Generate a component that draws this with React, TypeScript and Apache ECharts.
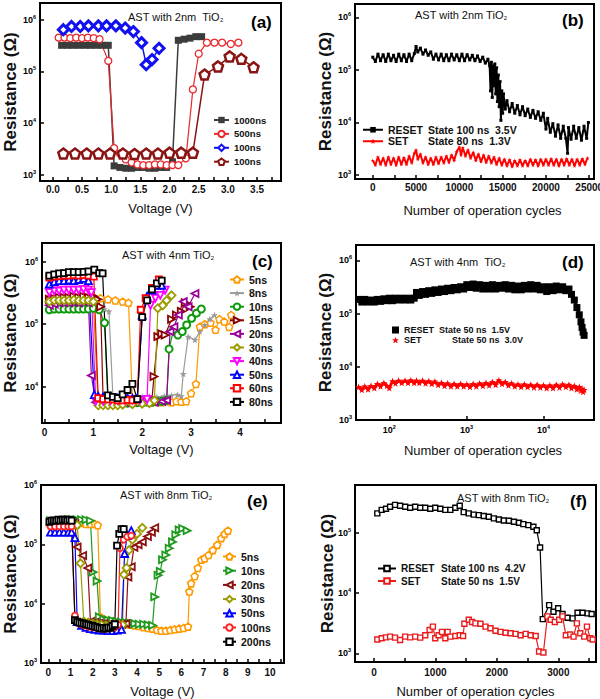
import React, { useEffect, useRef } from 'react';
import * as echarts from 'echarts';

type P = [number, number];

// ---------------- tick labels ----------------
const aXLabels = [0, 0.5, 1, 1.5, 2, 2.5, 3, 3.5];
const aXTicks = [0, 0.25, 0.5, 0.75, 1, 1.25, 1.5, 1.75, 2, 2.25, 2.5, 2.75, 3, 3.25, 3.5, 3.75];
const bXLabels = [0, 5000, 10000, 15000, 20000, 25000];
const bXTicks = [0, 2500, 5000, 7500, 10000, 12500, 15000, 17500, 20000, 22500, 25000];
const cXLabels = [0, 1, 2, 3, 4];
const cXTicks = [0, 0.5, 1, 1.5, 2, 2.5, 3, 3.5, 4, 4.5];
const eXLabels = [0, 1, 2, 3, 4, 5, 6, 7, 8, 9, 10];
const eXTicks = [0, 0.5, 1, 1.5, 2, 2.5, 3, 3.5, 4, 4.5, 5, 5.5, 6, 6.5, 7, 7.5, 8, 8.5, 9, 9.5, 10, 10.5];
const fXLabels = [0, 1000, 2000, 3000];
const fXTicks = [0, 500, 1000, 1500, 2000, 2500, 3000, 3500];

// ---------------- texts ----------------
const panelNotes = ['AST with 2nm  TiO', 'AST with 2nm TiO', 'AST with 4nm TiO', 'AST with 4nm  TiO', 'AST with 8nm TiO', 'AST with 8nm TiO'];
const panelLetters = ['(a)', '(b)', '(c)', '(d)', '(e)', '(f)'];
const aNames = ['1000ns', '500ns', '100ns', '100ns'];
const cNames = ['5ns', '8ns', '10ns', '15ns', '20ns', '30ns', '40ns', '50ns', '60ns', '80ns'];
const eNames = ['5ns', '10ns', '20ns', '30ns', '50ns', '100ns', '200ns'];
const bLegend = [['RESET', 'State 100 ns  3.5V'], ['SET', 'State 80 ns  1.3V']];
const dLegend = [['RESET', 'State 50 ns  1.5V'], ['SET', 'State 50 ns  3.0V']];
const fLegend = [['RESET', 'State 100 ns  4.2V'], ['SET', 'State 50 ns  1.5V']];

// ---------------- panel (a) ----------------
const a1000: P[] = [[0.15,3.2e5],[0.25,3.2e5],[0.35,3.2e5],[0.45,3.2e5],[0.55,3.2e5],[0.65,3.2e5],[0.75,3.2e5],[0.85,3.2e5],[0.95,3.2e5],[1.05,1.5e3],[1.15,1.4e3],[1.25,1.35e3],[1.35,1.35e3],[1.45,1.4e3],[1.55,1.4e3],[1.65,1.35e3],[1.75,1.35e3],[1.85,1.4e3],[1.95,1.4e3],[2.05,1.8e3],[2.15,4.0e5],[2.25,4.2e5],[2.35,4.4e5],[2.45,4.7e5],[2.55,4.7e5]];
const a500: P[] = [[0.1,4.5e5],[0.2,4.5e5],[0.3,4.4e5],[0.4,4.5e5],[0.5,4.4e5],[0.6,4.5e5],[0.7,4.4e5],[0.8,4.2e5],[0.95,1.6e5],[1.05,3.3e3],[1.15,2.6e3],[1.25,2.0e3],[1.35,1.75e3],[1.45,1.6e3],[1.55,1.55e3],[1.65,1.55e3],[1.75,1.6e3],[1.85,1.6e3],[1.95,1.55e3],[2.05,1.55e3],[2.15,1.55e3],[2.28,2.1e3],[2.4,4.5e4],[2.5,2.2e5],[2.64,3.6e5],[2.77,3.6e5],[2.9,3.6e5],[3.05,3.4e5],[3.18,3.6e5]];
const a100: P[] = [[0.18,6.4e5],[0.32,7.4e5],[0.47,7.4e5],[0.61,7.6e5],[0.78,7.6e5],[0.92,7.6e5],[1.08,7.6e5],[1.24,6.9e5],[1.38,5.9e5],[1.52,3.6e5],[1.6,1.35e5],[1.7,1.7e5],[1.82,2.8e5]];
const a100b: P[] = [[0.18,2.6e3],[0.38,2.6e3],[0.58,2.6e3],[0.78,2.6e3],[0.98,2.6e3],[1.2,2.6e3],[1.4,2.55e3],[1.6,2.6e3],[1.8,2.6e3],[2.0,2.7e3],[2.2,2.7e3],[2.4,2.7e3],[2.6,8.7e4],[2.83,1.25e5],[3.03,1.95e5],[3.23,1.75e5],[3.44,1.2e5]];

// ---------------- panel (b) ----------------
const bReset: P[] = [[0,1.75e5],[300,1.45e5],[600,2.0e5],[900,1.5e5],[1200,1.95e5],[1500,1.45e5],[1800,2.0e5],[2100,1.5e5],[2400,1.9e5],[2700,1.45e5],[3000,2.0e5],[3300,1.5e5],[3600,1.95e5],[3900,1.45e5],[4200,2.0e5],[4500,1.5e5],[4800,2.05e5],[5000,2.8e5],[5200,2.2e5],[5500,2.6e5],[5800,2.0e5],[6100,2.4e5],[6400,1.9e5],[6700,2.2e5],[7000,1.6e5],[7300,2.0e5],[7600,1.55e5],[7900,2.0e5],[8200,1.5e5],[8500,1.95e5],[8800,1.5e5],[9100,2.0e5],[9400,1.55e5],[9700,1.95e5],[10000,1.5e5],[10300,2.0e5],[10600,1.5e5],[10900,1.95e5],[11200,1.55e5],[11500,1.9e5],[11800,1.5e5],[12100,1.85e5],[12400,1.45e5],[12700,1.75e5],[13000,1.35e5],[13300,1.6e5],[13500,1.2e5],[13600,4.0e4],[13700,1.4e5],[13800,3.0e4],[13900,1.2e5],[14000,5.0e4],[14100,1.3e5],[14200,3.5e4],[14300,1.1e5],[14400,2.5e4],[14500,8.0e4],[14600,2.0e4],[14700,6.0e4],[14800,1.1e4],[14900,4.0e4],[15000,1.5e4],[15100,3.5e4],[15300,1.8e4],[15500,2.6e4],[15800,1.6e4],[16100,2.3e4],[16400,1.5e4],[16700,2.1e4],[17000,1.4e4],[17300,2.0e4],[17600,1.35e4],[17900,1.8e4],[18200,1.25e4],[18500,1.7e4],[18800,1.2e4],[19100,1.6e4],[19400,1.1e4],[19700,1.5e4],[20000,7.5e3],[20200,1.2e4],[20500,6.5e3],[20800,9.5e3],[21100,5.5e3],[21400,9.0e3],[21700,5.0e3],[22000,8.5e3],[22300,5.0e3],[22500,2.6e3],[22600,8.0e3],[22900,4.8e3],[23200,8.5e3],[23500,5.0e3],[23800,8.0e3],[24100,4.6e3],[24400,8.5e3],[24700,5.0e3],[24900,1.0e4]];
const bSet: P[] = [[0,1.9e3],[300,1.55e3],[600,2.2e3],[900,1.6e3],[1200,2.1e3],[1500,1.55e3],[1800,2.2e3],[2100,1.6e3],[2400,2.1e3],[2700,1.55e3],[3000,2.2e3],[3300,1.6e3],[3600,2.15e3],[3900,1.6e3],[4200,2.3e3],[4500,1.7e3],[4800,2.6e3],[5000,3.0e3],[5200,2.0e3],[5500,2.5e3],[5800,1.7e3],[6100,2.2e3],[6400,1.6e3],[6700,2.1e3],[7000,1.6e3],[7300,2.2e3],[7600,1.65e3],[7900,2.2e3],[8200,1.7e3],[8500,2.3e3],[8800,1.75e3],[9100,2.4e3],[9400,1.9e3],[9700,2.8e3],[10000,3.4e3],[10200,2.4e3],[10400,3.3e3],[10700,2.3e3],[11000,3.0e3],[11300,2.1e3],[11600,2.7e3],[11900,1.9e3],[12200,2.5e3],[12500,1.8e3],[12800,2.4e3],[13100,1.75e3],[13400,2.3e3],[13700,1.7e3],[14000,2.2e3],[14300,1.6e3],[14600,2.1e3],[14900,1.55e3],[15200,2.0e3],[15500,1.5e3],[15800,1.95e3],[16100,1.45e3],[16400,1.9e3],[16700,1.5e3],[17000,1.95e3],[17300,1.5e3],[17600,1.9e3],[17900,1.5e3],[18200,2.0e3],[18500,1.55e3],[18800,1.95e3],[19100,1.5e3],[19400,2.0e3],[19700,1.55e3],[20000,2.0e3],[20300,1.55e3],[20600,2.05e3],[20900,1.55e3],[21200,2.0e3],[21500,1.5e3],[21800,2.0e3],[22100,1.55e3],[22400,2.05e3],[22700,1.55e3],[23000,2.0e3],[23300,1.5e3],[23600,2.0e3],[23900,1.55e3],[24200,2.05e3],[24500,1.6e3],[24800,2.1e3]];

// ---------------- panel (c) ----------------
const c5: P[] = [[0.1,2.6e5],[0.25,2.6e5],[0.4,2.6e5],[0.55,2.7e5],[0.7,2.7e5],[0.85,2.7e5],[1.0,2.75e5],[1.15,2.6e5],[1.3,2.5e5],[1.45,2.4e5],[1.6,2.3e5],[1.72,2.2e5],[1.8,6.0e3],[1.9,5.8e3],[2.0,5.6e3],[2.1,5.8e3],[2.2,5.6e3],[2.3,5.7e3],[2.4,5.6e3],[2.5,5.8e3],[2.6,5.6e3],[2.7,5.8e3],[2.8,5.7e3],[2.9,5.8e3],[3.0,7.8e3],[3.1,1.1e4],[3.18,9.1e4],[3.28,1.0e5],[3.4,1.05e5],[3.5,8.1e4],[3.58,1.2e5],[3.68,1.1e5],[3.78,9.0e4],[3.82,1.4e5]];
const c8: P[] = [[0.1,1.8e5],[0.25,1.8e5],[0.4,1.85e5],[0.55,1.85e5],[0.7,1.85e5],[0.85,1.8e5],[1.0,1.8e5],[1.12,1.8e5],[1.22,1.75e5],[1.32,1.6e5],[1.4,7.0e3],[1.55,6.8e3],[1.7,7.0e3],[1.85,6.8e3],[2.0,6.9e3],[2.15,7.0e3],[2.3,6.8e3],[2.45,7.0e3],[2.6,7.2e3],[2.72,7.4e3],[2.8,7.0e3],[2.84,1.6e4],[2.94,6.3e4],[3.08,5.6e4],[3.18,7.6e4],[3.28,9.7e4],[3.38,1.2e5],[3.48,1.4e5]];
const c10: P[] = [[0.1,1.7e5],[0.2,1.75e5],[0.3,1.75e5],[0.4,1.75e5],[0.5,1.75e5],[0.6,1.75e5],[0.7,1.75e5],[0.8,1.75e5],[0.9,1.75e5],[1.0,1.8e5],[1.12,1.7e5],[1.23,1.05e5],[1.3,5.2e3],[1.4,5.2e3],[1.5,5.3e3],[1.6,5.3e3],[1.7,5.4e3],[1.8,5.4e3],[1.9,5.5e3],[2.0,5.5e3],[2.1,5.6e3],[2.2,5.6e3],[2.3,5.7e3],[2.4,5.8e3],[2.5,6.0e3],[2.55,4.0e4],[2.64,8.0e4],[2.73,6.7e4],[2.82,7.6e4],[2.91,9.7e4],[3.01,1.24e5],[3.11,1.5e5],[3.21,1.75e5]];
const c15: P[] = [[0.1,2.5e5],[0.2,2.6e5],[0.3,2.7e5],[0.4,2.7e5],[0.5,2.7e5],[0.6,2.8e5],[0.7,2.7e5],[0.8,2.8e5],[0.9,2.7e5],[1.0,2.8e5],[1.09,2.5e5],[1.15,1.9e5],[1.2,6.2e3],[1.35,6.0e3],[1.5,6.0e3],[1.65,6.1e3],[1.8,6.0e3],[1.95,6.1e3],[2.1,6.0e3],[2.2,6.2e3],[2.24,1.45e4],[2.32,6.3e4],[2.4,7.0e4],[2.47,6.7e4],[2.6,1.2e5],[2.7,1.4e5],[2.8,1.6e5],[2.88,2.2e5],[2.98,1.9e5]];
const c20: P[] = [[0.1,2.0e5],[0.2,2.1e5],[0.3,2.2e5],[0.4,2.2e5],[0.5,2.2e5],[0.6,2.25e5],[0.7,2.2e5],[0.8,2.3e5],[0.9,2.2e5],[0.96,1.5e4],[1.05,5.6e3],[1.2,5.5e3],[1.35,5.6e3],[1.5,5.5e3],[1.65,5.6e3],[1.8,5.7e3],[1.95,5.6e3],[2.1,5.7e3],[2.25,5.6e3],[2.4,5.8e3],[2.5,6.0e3],[2.57,7.6e4],[2.65,9.1e4],[2.74,1.4e5],[2.84,2.3e5],[2.94,1.9e5],[3.08,3.1e5]];
const c30: P[] = [[0.1,2.3e5],[0.2,2.4e5],[0.3,2.4e5],[0.4,2.4e5],[0.5,2.4e5],[0.6,2.45e5],[0.7,2.4e5],[0.8,2.4e5],[0.9,2.4e5],[1.0,2.3e5],[1.1,5.0e3],[1.2,5.0e3],[1.3,5.0e3],[1.4,5.0e3],[1.5,5.0e3],[1.6,5.1e3],[1.8,5.2e3],[2.0,5.3e3],[2.15,5.4e3],[2.25,6.0e3],[2.32,1.8e5],[2.42,2.0e5],[2.5,2.4e5],[2.6,2.9e5]];
const c40: P[] = [[0.1,3.2e5],[0.2,3.4e5],[0.3,3.4e5],[0.4,3.5e5],[0.5,3.5e5],[0.6,3.5e5],[0.7,3.5e5],[0.8,3.6e5],[0.9,3.5e5],[0.96,3.2e5],[1.05,5.8e3],[1.2,5.8e3],[1.35,5.9e3],[1.5,6.0e3],[1.65,6.0e3],[1.8,6.1e3],[1.95,6.0e3],[2.1,6.2e3],[2.17,2.0e5],[2.27,2.6e5],[2.37,2.9e5],[2.47,3.5e5]];
const c50: P[] = [[0.1,4.4e5],[0.2,4.8e5],[0.3,5.0e5],[0.4,5.0e5],[0.5,5.1e5],[0.6,5.0e5],[0.7,5.2e5],[0.8,5.4e5],[0.9,5.0e5],[1.02,7.4e3],[1.1,7.0e3],[1.2,6.8e3],[1.3,6.6e3],[1.4,6.5e3],[1.5,6.5e3],[1.6,6.4e3],[1.7,6.5e3],[1.8,6.4e3],[1.9,6.5e3],[2.0,1.4e5],[2.1,2.8e5],[2.2,3.5e5],[2.3,4.2e5],[2.4,4.2e5]];
const c60: P[] = [[0.1,5.6e5],[0.2,5.8e5],[0.3,5.9e5],[0.4,6.0e5],[0.5,6.0e5],[0.6,6.1e5],[0.7,6.0e5],[0.8,6.1e5],[0.9,6.0e5],[1.01,5.8e5],[1.1,6.5e3],[1.2,6.3e3],[1.3,6.2e3],[1.4,6.2e3],[1.5,6.0e3],[1.6,6.0e3],[1.7,6.1e3],[1.8,6.0e3],[1.9,6.2e3],[1.97,1.7e5],[2.07,2.6e5],[2.2,3.8e5],[2.34,5.2e5]];
const c80: P[] = [[0.1,6.0e5],[0.2,6.3e5],[0.3,6.5e5],[0.4,6.6e5],[0.5,6.8e5],[0.6,6.8e5],[0.7,6.8e5],[0.8,6.9e5],[0.9,7.0e5],[1.02,7.5e5],[1.12,6.6e5],[1.19,6.5e5],[1.3,7.2e3],[1.4,6.8e3],[1.5,6.5e3],[1.6,7.5e3],[1.7,8.8e3],[1.8,1.1e4],[1.9,6.3e3],[2.0,1.3e5],[2.1,2.4e5],[2.2,3.6e5],[2.3,4.5e5],[2.4,5.0e5]];

// ---------------- panel (d) ----------------
const dReset: P[] = [[40,1.85e5],[44,1.65e5],[48,1.85e5],[53,1.65e5],[58,1.8e5],[64,1.65e5],[70,1.85e5],[77,1.7e5],[85,1.9e5],[93,1.75e5],[100,1.95e5],[110,1.75e5],[120,1.95e5],[132,1.8e5],[145,1.95e5],[160,1.8e5],[175,1.95e5],[190,1.8e5],[210,1.95e5],[225,2.5e5],[245,2.2e5],[270,2.6e5],[295,2.3e5],[325,2.7e5],[355,2.4e5],[390,2.8e5],[430,2.5e5],[475,2.9e5],[520,2.6e5],[570,3.0e5],[630,2.7e5],[690,3.1e5],[760,2.8e5],[840,3.2e5],[920,2.9e5],[1010,3.5e5],[1110,3.1e5],[1220,3.6e5],[1340,3.0e5],[1480,3.5e5],[1630,2.9e5],[1790,3.4e5],[1970,2.9e5],[2170,3.5e5],[2390,2.9e5],[2630,3.4e5],[2890,3.0e5],[3180,3.5e5],[3500,2.9e5],[3850,3.4e5],[4230,2.8e5],[4650,3.3e5],[5120,2.8e5],[5630,3.4e5],[6190,2.9e5],[6810,3.5e5],[7490,2.9e5],[8240,3.4e5],[9060,2.8e5],[9970,3.2e5],[10960,2.6e5],[12060,3.2e5],[13260,2.7e5],[14590,3.3e5],[16050,2.8e5],[17650,3.2e5],[19400,2.7e5],[21300,2.9e5],[23000,2.3e5],[25000,1.8e5],[27000,1.3e5],[29000,9.5e4],[30500,7.0e4],[31500,5.5e4],[32500,4.5e4],[33500,3.9e4]];
const dSet: P[] = [[40,4.2e3],[44,3.7e3],[48,4.3e3],[53,3.8e3],[58,4.4e3],[64,4.0e3],[70,4.8e3],[77,4.3e3],[85,5.0e3],[93,4.4e3],[100,4.0e3],[110,5.4e3],[120,4.9e3],[132,5.5e3],[145,5.0e3],[160,5.5e3],[175,5.0e3],[190,5.6e3],[210,5.0e3],[225,5.5e3],[245,5.0e3],[270,5.5e3],[295,4.9e3],[325,5.4e3],[355,4.8e3],[390,5.3e3],[430,4.6e3],[475,5.0e3],[520,4.4e3],[570,4.9e3],[630,4.3e3],[690,4.8e3],[760,4.3e3],[840,4.8e3],[920,4.3e3],[1010,4.7e3],[1110,4.2e3],[1220,4.8e3],[1340,4.3e3],[1480,4.9e3],[1630,4.4e3],[1790,5.0e3],[1970,4.5e3],[2170,5.2e3],[2390,4.6e3],[2630,5.6e3],[2890,4.8e3],[3180,5.2e3],[3500,4.5e3],[3850,4.9e3],[4230,4.3e3],[4650,4.7e3],[5120,4.2e3],[5630,4.7e3],[6190,4.2e3],[6810,4.6e3],[7490,4.1e3],[8240,4.6e3],[9060,4.1e3],[9970,4.5e3],[10960,4.0e3],[12060,4.5e3],[13260,4.0e3],[14590,4.6e3],[16050,4.1e3],[17650,4.7e3],[19400,4.2e3],[21300,4.6e3],[23000,4.0e3],[25000,4.4e3],[27000,3.8e3],[29000,4.2e3],[30500,3.6e3],[31500,3.9e3],[32500,3.4e3],[33500,3.7e3]];

// ---------------- panel (e) ----------------
const e5: P[] = [[0.1,2.2e5],[0.3,2.2e5],[0.5,2.2e5],[0.7,2.3e5],[0.9,2.3e5],[1.1,2.3e5],[1.3,2.3e5],[1.5,2.3e5],[1.7,2.2e5],[1.9,2.2e5],[2.1,2.2e5],[2.23,2.1e5],[2.35,6.0e3],[2.5,5.5e3],[2.7,5.2e3],[2.9,5.0e3],[3.1,4.8e3],[3.3,4.6e3],[3.5,4.5e3],[3.7,4.4e3],[3.9,4.3e3],[4.1,4.2e3],[4.3,4.0e3],[4.5,3.9e3],[4.7,3.8e3],[4.9,3.6e3],[5.1,3.5e3],[5.3,3.5e3],[5.5,3.6e3],[5.7,3.7e3],[5.9,3.8e3],[6.1,3.9e3],[6.3,4.1e3],[6.36,1.6e4],[6.44,2.2e4],[6.6,2.9e4],[6.74,4.0e4],[6.9,5.5e4],[7.05,5.8e4],[7.23,6.6e4],[7.42,8.0e4],[7.62,9.8e4],[7.8,1.27e5],[7.95,1.5e5],[8.1,1.7e5]];
const e10: P[] = [[0.1,2.5e5],[0.3,2.5e5],[0.5,2.5e5],[0.7,2.5e5],[0.9,2.6e5],[1.1,2.6e5],[1.3,2.6e5],[1.5,2.6e5],[1.7,2.6e5],[1.9,2.5e5],[2.02,3.4e4],[2.2,2.4e4],[2.3,6.0e3],[2.5,5.5e3],[2.7,5.3e3],[2.9,5.2e3],[3.1,5.0e3],[3.3,4.9e3],[3.5,4.8e3],[3.7,4.7e3],[3.9,4.6e3],[4.1,4.5e3],[4.3,4.5e3],[4.5,4.4e3],[4.7,4.3e3],[4.8,1.3e4],[4.95,3.0e4],[5.05,3.5e4],[5.15,5.5e4],[5.3,6.6e4],[5.45,8.6e4],[5.6,1.1e5],[5.75,1.45e5],[5.9,1.75e5],[6.06,1.85e5],[6.26,1.7e5]];
const e20: P[] = [[0.1,2.2e5],[0.3,2.2e5],[0.5,2.3e5],[0.7,2.3e5],[0.9,2.3e5],[1.1,2.3e5],[1.2,2.2e5],[1.3,9.0e4],[1.55,6.5e4],[1.78,4.0e4],[1.9,5.0e3],[2.1,4.8e3],[2.3,4.7e3],[2.5,4.6e3],[2.7,4.5e3],[2.9,4.5e3],[3.1,4.4e3],[3.3,4.5e3],[3.5,4.6e3],[3.59,2.8e4],[3.74,4.2e4],[3.86,8.9e4],[4.05,9.8e4],[4.24,1.1e5],[4.47,1.35e5],[4.65,1.6e5],[4.8,1.9e5]];
const e30: P[] = [[0.1,2.1e5],[0.3,2.1e5],[0.5,2.1e5],[0.7,2.2e5],[0.9,2.2e5],[1.1,2.2e5],[1.3,2.1e5],[1.45,4.8e4],[1.6,5.0e3],[1.8,4.8e3],[2.0,4.6e3],[2.2,4.5e3],[2.4,4.4e3],[2.6,4.3e3],[2.8,4.3e3],[3.0,4.2e3],[3.2,4.3e3],[3.35,4.4e3],[3.41,3.1e4],[3.53,4.0e4],[3.64,8.0e4],[3.79,1.2e5],[4.0,1.5e5],[4.24,1.9e5]];
const e50: P[] = [[0.1,1.6e5],[0.3,1.6e5],[0.5,1.6e5],[0.7,1.6e5],[0.9,1.6e5],[1.05,1.6e5],[1.2,1.3e5],[1.3,5.0e3],[1.5,4.3e3],[1.7,4.0e3],[1.9,3.8e3],[2.1,3.7e3],[2.3,3.6e3],[2.5,3.6e3],[2.7,3.5e3],[2.9,3.5e3],[3.1,3.6e3],[3.3,3.7e3],[3.44,7.0e4],[3.56,1.4e5],[3.74,1.7e5]];
const e100: P[] = [[0.1,2.0e5],[0.3,2.0e5],[0.5,2.0e5],[0.7,2.0e5],[0.9,2.0e5],[1.05,2.0e5],[1.2,6.3e3],[1.4,4.6e3],[1.6,4.3e3],[1.8,4.1e3],[2.0,4.0e3],[2.2,3.9e3],[2.4,3.8e3],[2.6,3.8e3],[2.8,3.9e3],[3.0,4.0e3],[3.15,4.4e3],[3.23,8.6e4],[3.4,1.2e5],[3.56,1.35e5],[3.74,1.4e5]];
const e200: P[] = [[0.05,2.4e5],[0.15,2.5e5],[0.25,2.5e5],[0.35,2.5e5],[0.45,2.6e5],[0.55,2.5e5],[0.65,2.6e5],[0.75,2.6e5],[0.85,2.5e5],[0.95,2.6e5],[1.05,2.5e5],[1.2,5.3e3],[1.3,5.0e3],[1.4,4.8e3],[1.5,4.7e3],[1.6,4.6e3],[1.7,4.5e3],[1.8,4.4e3],[1.9,4.3e3],[2.0,4.2e3],[2.1,4.1e3],[2.2,4.0e3],[2.3,3.9e3],[2.4,3.8e3],[2.5,3.9e3],[2.6,3.8e3],[2.7,4.0e3],[2.8,3.9e3],[2.9,4.2e3],[3.0,4.5e3],[3.1,9.5e4],[3.2,1.5e5],[3.3,1.8e5],[3.4,1.8e5]];

// ---------------- panel (f) ----------------
const fReset: P[] = [[54,2.1e5],[125,2.4e5],[196,2.5e5],[262,2.7e5],[343,2.9e5],[425,2.8e5],[507,2.7e5],[589,2.6e5],[670,2.7e5],[752,2.6e5],[834,2.6e5],[916,2.5e5],[997,2.6e5],[1079,2.5e5],[1161,2.4e5],[1243,2.4e5],[1324,2.6e5],[1395,2.8e5],[1460,2.2e5],[1542,2.1e5],[1624,2.0e5],[1706,1.96e5],[1787,1.9e5],[1869,1.84e5],[1951,1.73e5],[2033,1.66e5],[2114,1.6e5],[2196,1.58e5],[2278,1.52e5],[2360,1.47e5],[2431,1.39e5],[2512,1.34e5],[2594,1.26e5],[2649,1.1e5],[2703,5.7e4],[2747,3.7e3],[2850,6.3e3],[2921,4.9e3],[2997,5.6e3],[3068,4.5e3],[3150,3.9e3],[3232,3.8e3],[3313,4.7e3],[3395,4.7e3],[3477,4.6e3],[3542,4.5e3]];
const fSet: P[] = [[54,1.7e3],[125,1.78e3],[196,1.84e3],[262,1.89e3],[343,1.82e3],[425,1.66e3],[507,1.89e3],[589,1.84e3],[670,1.89e3],[752,1.82e3],[834,2.0e3],[905,2.44e3],[959,2.77e3],[997,1.78e3],[1052,2.0e3],[1106,2.27e3],[1161,1.78e3],[1199,2.27e3],[1243,1.89e3],[1324,1.94e3],[1395,2.0e3],[1450,1.94e3],[1471,3.1e3],[1542,3.6e3],[1597,3.3e3],[1651,3.14e3],[1733,3.1e3],[1815,2.77e3],[1896,2.6e3],[1978,2.37e3],[2060,2.27e3],[2142,2.2e3],[2223,2.15e3],[2305,2.1e3],[2387,2.0e3],[2469,2.1e3],[2550,2.0e3],[2632,1.94e3],[2687,1.07e3],[2757,1.03e3],[2823,4.1e3],[2877,3.6e3],[2943,3.3e3],[3014,3.6e3],[3068,4.1e3],[3123,2.0e3],[3194,2.05e3],[3248,1.89e3],[3302,3.14e3],[3357,2.15e3],[3422,1.89e3],[3466,2.77e3],[3520,1.78e3],[3559,1.7e3]];

// ---------------- symbols ----------------
const PENT = 'path://M5,0L10,3.7L8.1,9.6L1.9,9.6L0,3.7Z';
const STAR = 'path://M5,0L6.2,3.6L10,3.7L7,6L8.1,9.6L5,7.5L1.9,9.6L3,6L0,3.7L3.8,3.6Z';
const TRI_R = 'path://M0,0L10,5L0,10Z';
const TRI_L = 'path://M10,0L0,5L10,10Z';
const TRI_D = 'path://M0,0L10,0L5,10Z';
const TRI_U = 'path://M5,0L10,10L0,10Z';

const FF = 'Arial, "Liberation Sans", sans-serif';

function ser(name: string, data: P[], gi: number, color: string, symbol: string, size: number, hollow: boolean, lw = 1.2, bw = 1.5, z = 2) {
  return {
    type: 'line', name, data, xAxisIndex: gi, yAxisIndex: gi,
    symbol, symbolSize: size, showSymbol: true, z, animation: false,
    lineStyle: { color, width: lw },
    itemStyle: { color: hollow ? '#fff' : color, borderColor: color, borderWidth: hollow ? bw : 0 },
    emphasis: { disabled: true },
  };
}

const powRich = {
  b: { fontSize: 9, fontWeight: 'bold', fontFamily: FF, color: '#000', lineHeight: 12 },
  s: { fontSize: 5.5, fontWeight: 'bold', fontFamily: FF, color: '#000', lineHeight: 6, verticalAlign: 'top' },
};
function powLabel(v: number) {
  const e = Math.log10(v);
  const r = Math.round(e);
  if (Math.abs(e - r) > 1e-6) return '';
  return `{b|10}{s|${r}}`;
}

const axisLine = { show: true, onZero: false, lineStyle: { color: '#000', width: 2 } };

function yLog(gi: number, min: number, max: number, nameGap: number) {
  return {
    type: 'log', gridIndex: gi, logBase: 10, min, max,
    axisLine,
    axisTick: { show: true, inside: true, length: 4, lineStyle: { color: '#000', width: 1.5 } },
    splitLine: { show: false },
    axisLabel: { margin: 4, formatter: powLabel, rich: powRich },
    name: 'Resistance (Ω)', nameLocation: 'middle', nameGap, nameMoveOverlap: false,
    nameTextStyle: { fontSize: 17, fontWeight: 'bold', fontFamily: FF, color: '#111' },
  };
}

function xVal(gi: number, min: number, max: number, labels: number[], ticks: number[], digits: number, name: string, nameGap: number, margin: number, shift = 0) {
  return {
    type: 'value', gridIndex: gi, min, max,
    axisLine,
    axisTick: { show: true, inside: true, length: 4, customValues: ticks, lineStyle: { color: '#000', width: 1.5 } },
    splitLine: { show: false },
    axisLabel: { customValues: labels, margin, fontSize: 10, fontWeight: 'bold', fontFamily: FF, color: '#111', formatter: (v: number) => v.toFixed(digits) },
    name, nameLocation: 'middle', nameGap, nameMoveOverlap: false,
    nameTextStyle: { fontSize: 13, fontFamily: FF, color: '#111', padding: [0, 0, 0, shift * 2] },
  };
}

function strip(n: string) { return n.slice(n.indexOf('#') + 1); }

function buildOption() {
  const grids = [
    { left: 40, top: 3, width: 241, height: 178 },
    { left: 355, top: 4, width: 239, height: 175 },
    { left: 42, top: 243, width: 239, height: 180 },
    { left: 356, top: 245, width: 238, height: 175 },
    { left: 41, top: 485, width: 243, height: 178 },
    { left: 355, top: 485, width: 241, height: 177 },
  ].map((g) => ({ ...g, show: true, borderColor: '#000', borderWidth: 2, backgroundColor: 'transparent', containLabel: false, outerBoundsMode: 'none' }));

  const xAxis = [
    xVal(0, -0.22, 3.91, aXLabels, aXTicks, 1, 'Voltage (V)', 21, 3),
    xVal(1, -2050, 25550, bXLabels, bXTicks, 0, 'Number of operation cycles', 25, 3, 8),
    xVal(2, -0.05, 4.84, cXLabels, cXTicks, 0, 'Voltage (V)', 20, 4),
    {
      type: 'log', gridIndex: 3, logBase: 10, min: 37, max: 4.5e4, axisLine,
      axisTick: { show: true, inside: true, length: 4, lineStyle: { color: '#000', width: 1.5 } },
      splitLine: { show: false },
      axisLabel: { margin: 4, formatter: powLabel, rich: powRich },
      name: 'Number of operation cycles', nameLocation: 'middle', nameGap: 24, nameMoveOverlap: false,
      nameTextStyle: { fontSize: 13, fontFamily: FF, color: '#111', padding: [0, 0, 0, 16] },
    },
    xVal(4, -0.33, 10.63, eXLabels, eXTicks, 0, 'Voltage (V)', 22, 4),
    xVal(5, -309, 3613, fXLabels, fXTicks, 0, 'Number of operation cycles', 22.5, 5),
  ];
  const yAxis = [
    yLog(0, 766, 2.1e6, 21),
    yLog(1, 840, 1.8e6, 21),
    yLog(2, 2.6e3, 2.0e6, 23),
    yLog(3, 1e3, 1.95e6, 22),
    yLog(4, 1e3, 1e6, 22),
    yLog(5, 718, 6.2e5, 19),
  ];

  const series: any[] = [
    // (a)
    ser('a#' + aNames[0], a1000, 0, '#3c3c3c', 'rect', 7, false, 1.5),
    ser('a#' + aNames[1], a500, 0, '#e8282d', 'circle', 7, true, 1.2, 1.3),
    ser('a#' + aNames[2], a100, 0, '#1010f0', 'diamond', 10, true, 1.5, 3),
    ser('a2#' + aNames[3], a100b, 0, '#8a1414', PENT, 10, true, 1.5, 2.5),
    // (b)
    ser('b#RESET', bReset, 1, '#000', 'rect', 3, false, 2),
    ser('b#SET', bSet, 1, '#ff0000', STAR, 4, false, 2),
    // (c)
    ser('c#' + cNames[0], c5, 2, '#ff9900', PENT, 7, true, 1.2, 1.5),
    ser('c#' + cNames[1], c8, 2, '#9a9a9a', STAR, 7, false, 1.2),
    ser('c#' + cNames[2], c10, 2, '#0a9a0a', 'circle', 7, true, 1.2, 2),
    ser('c#' + cNames[3], c15, 2, '#8b0000', TRI_R, 7, true, 1.2, 1.8),
    ser('c#' + cNames[4], c20, 2, '#990099', TRI_L, 7, true, 1.2, 1.8),
    ser('c#' + cNames[5], c30, 2, '#9c9c00', 'diamond', 8, true, 1.2, 1.8),
    ser('c#' + cNames[6], c40, 2, '#ff00ff', TRI_D, 7, true, 1.2, 1.8),
    ser('c#' + cNames[7], c50, 2, '#0000ff', TRI_U, 7, true, 1.2, 1.8),
    ser('c#' + cNames[8], c60, 2, '#ff0000', 'rect', 6, true, 1.2, 1.8),
    ser('c#' + cNames[9], c80, 2, '#000000', 'rect', 6, true, 1.2, 1.8),
    // (d)
    ser('d#RESET', dReset, 3, '#000', 'rect', 7, false, 3),
    ser('d#SET', dSet, 3, '#ff0000', STAR, 7, false, 3),
    // (e)
    ser('e#' + eNames[0], e5, 4, '#ff9900', PENT, 7, true, 1.2, 1.6),
    ser('e#' + eNames[1], e10, 4, '#1f9a1f', TRI_R, 7, true, 1.2, 1.8),
    ser('e#' + eNames[2], e20, 4, '#8b1010', TRI_L, 7, true, 1.2, 1.8),
    ser('e#' + eNames[3], e30, 4, '#9c9c00', 'diamond', 8, true, 1.2, 1.8),
    ser('e#' + eNames[4], e50, 4, '#0000ff', TRI_U, 7, true, 1.2, 1.8),
    ser('e#' + eNames[5], e100, 4, '#ff2020', 'circle', 6, true, 1.2, 1.8),
    ser('e#' + eNames[6], e200, 4, '#000000', 'rect', 6, true, 1.2, 1.8),
    // (f)
    ser('f#RESET', fReset, 5, '#000', 'rect', 5, true, 1.2, 1.4),
    ser('f#SET', fSet, 5, '#e81c1c', 'rect', 5, true, 1.2, 1.4),
  ];

  const legText = (fs: number, lh: number) => ({ fontSize: fs, fontWeight: 'bold', fontFamily: FF, color: '#111', lineHeight: lh });
  const baseLeg = { orient: 'vertical', padding: 0, selectedMode: false, backgroundColor: 'transparent' };
  const richLeg = (pairs: string[][], w1: number, w2: number, fs: number) => {
    const st = { fontSize: fs, fontFamily: FF, fontWeight: 'bold', color: '#111', lineHeight: fs + 1 };
    return {
      formatter: (n: string) => {
        const i = strip(n) === 'RESET' ? 0 : 1;
        return `{p${i}|${pairs[i][0]}}{q|${pairs[i][1]}}`;
      },
      textStyle: {
        ...st,
        rich: { p0: { ...st, width: w1 }, p1: { ...st, width: w2 }, q: st },
      },
    };
  };

  const legend = [
    { ...baseLeg, left: 213, top: 115, itemWidth: 15, itemHeight: 8, itemGap: 3.9, data: ['a#1000ns', 'a#500ns', 'a#100ns', 'a2#100ns'], formatter: strip, textStyle: legText(9.5, 10) },
    { ...baseLeg, left: 362, top: 124, itemWidth: 20, itemHeight: 7, itemGap: 0, data: ['b#RESET', 'b#SET'], ...richLeg(bLegend, 40, 40, 10.5) },
    { ...baseLeg, left: 229, top: 274, itemWidth: 14, itemHeight: 8, itemGap: 2.6, data: cNames.map((n) => 'c#' + n), formatter: strip, textStyle: legText(10.5, 11) },
    { ...baseLeg, left: 392, top: 325, itemWidth: 7, itemHeight: 7, itemGap: 0, data: [{ name: 'd#RESET', icon: 'rect' }, { name: 'd#SET', icon: STAR }], ...richLeg(dLegend, 35, 48, 9) },
    { ...baseLeg, left: 222, top: 551, itemWidth: 13, itemHeight: 8, itemGap: 3.2, data: eNames.map((n) => 'e#' + n), formatter: strip, textStyle: legText(10.5, 11) },
    { ...baseLeg, left: 377, top: 563, itemWidth: 18, itemHeight: 7, itemGap: 1.5, data: ['f#RESET', 'f#SET'], ...richLeg(fLegend, 40, 40, 10) },
  ];

  const notePos = [[128, 11], [415, 9], [122, 249], [410, 256], [120, 489], [457, 492]];
  const letterPos = [[251, 14], [562, 12], [252, 253], [562, 254], [247, 493], [570, 493]];
  const graphic: any[] = [];
  notePos.forEach((p, i) => {
    graphic.push({
      type: 'text', left: p[0], top: p[1], z: 100, silent: true,
      style: {
        text: `{m|${panelNotes[i]}}{s|2}`,
        rich: {
          m: { fontSize: 11, fontFamily: FF, fill: '#111', lineHeight: 13 },
          s: { fontSize: 6, fontFamily: FF, fill: '#111', lineHeight: 6, verticalAlign: 'bottom' },
        },
      },
    });
  });
  letterPos.forEach((p, i) => {
    graphic.push({
      type: 'text', left: p[0], top: p[1], z: 100, silent: true,
      style: { text: panelLetters[i], fontSize: 17, fontWeight: 'bold', fontFamily: FF, fill: '#000' },
    });
  });

  return {
    animation: false,
    backgroundColor: '#fff',
    textStyle: { fontFamily: FF },
    grid: grids,
    xAxis,
    yAxis,
    legend,
    series,
    graphic,
  };
}

export default function App() {
  const ref = useRef<HTMLDivElement>(null);
  useEffect(() => {
    const chart = echarts.init(ref.current as HTMLDivElement, null, { renderer: 'svg', width: 600, height: 699 });
    chart.setOption(buildOption() as any);
    return () => chart.dispose();
  }, []);
  return <div ref={ref} style={{ position: 'fixed', left: 0, top: 0, width: 600, height: 699, background: '#fff' }} />;
}
